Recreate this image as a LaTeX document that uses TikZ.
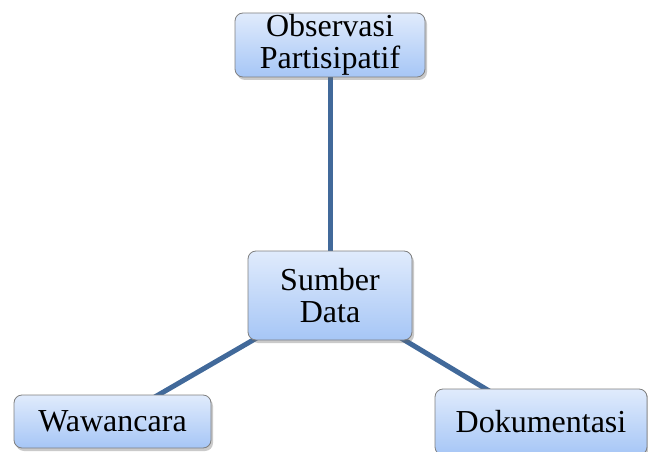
\documentclass[tikz,border=0pt]{standalone}
\usepackage{fontspec}
\setmainfont{Liberation Serif}
\usetikzlibrary{shadows,backgrounds}
\definecolor{boxtop}{HTML}{E0EBFC}
\definecolor{boxbot}{HTML}{A6C6F6}
\definecolor{boxline}{HTML}{7F7F7F}
\definecolor{conncol}{HTML}{41699A}
\tikzset{
  box/.style={draw=boxline, line width=0.8pt, rounded corners=8pt,
    top color=boxtop, bottom color=boxbot, align=center,
    inner sep=0pt, font=\fontsize{32}{32}\selectfont,
    drop shadow={shadow xshift=2pt, shadow yshift=-3pt, opacity=0.35, fill=black!60}},
  conn/.style={draw=conncol, line width=5pt}
}
\begin{document}
\begin{tikzpicture}[x=1pt,y=-1pt]
\useasboundingbox (0,0) rectangle (648,452);
\node[box, minimum width=190pt, minimum height=64pt] (obs) at (330,45) {Observasi\\Partisipatif};
\node[box, minimum width=164pt, minimum height=89pt] (sum) at (330,295.5) {Sumber\\Data};
\node[box, minimum width=197pt, minimum height=53pt] (waw) at (112.5,421.5) {Wawancara};
\node[box, minimum width=212pt, minimum height=66pt] (dok) at (541,422) {Dokumentasi};
\begin{scope}[on background layer]
\draw[conn] (obs.center) -- (sum.center);
\draw[conn] (sum.center) -- (waw.center);
\draw[conn] (sum.center) -- (dok.center);
\end{scope}
\end{tikzpicture}
\end{document}
